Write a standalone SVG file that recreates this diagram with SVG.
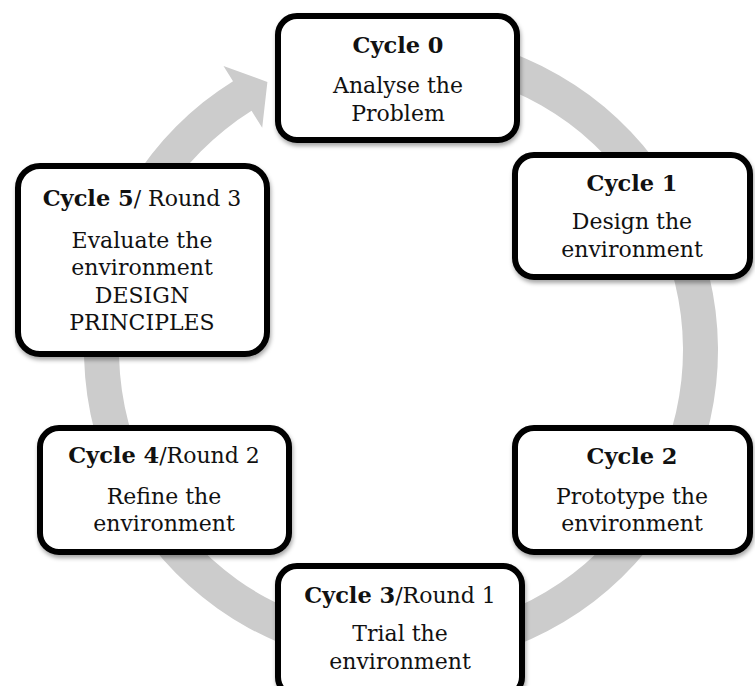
<svg xmlns="http://www.w3.org/2000/svg" width="755" height="686" viewBox="0 0 755 686">
<style>
.box{fill:#ffffff;stroke:#000000;stroke-width:6;filter:url(#sh)}
.t{font-family:"DejaVu Serif","Liberation Serif",serif;font-size:22px;fill:#111;text-anchor:middle}
.b{font-weight:bold;font-size:22.5px}
</style>
<defs>
<filter id="sh" x="-10%" y="-10%" width="125%" height="130%">
<feDropShadow dx="1" dy="3" stdDeviation="2" flood-color="#000" flood-opacity="0.35"/>
</filter>
</defs>
<rect width="755" height="686" fill="#ffffff"/>
<g id="connectors">
<path d="M456.05,37.82 A317,317 0 1 1 233.02,81.17 L223.5,65.9 L267.4,82.0 L262.2,127.8 L251.56,110.85 A282,282 0 1 0 449.97,72.28 Z" fill="#cccccc"/>
</g>
<g id="cycle0">
<rect class="box" x="278" y="16" width="239" height="124" rx="19"/>
<text class="t b" x="398" y="53">Cycle 0</text>
<text class="t" x="398" y="93">Analyse the</text>
<text class="t" x="398" y="121">Problem</text>
</g>
<g id="cycle1">
<rect class="box" x="515" y="155" width="235" height="122" rx="19"/>
<text class="t b" x="632" y="191">Cycle 1</text>
<text class="t" x="632" y="229">Design the</text>
<text class="t" x="632" y="257">environment</text>
</g>
<g id="cycle2">
<rect class="box" x="515" y="428" width="235" height="124" rx="19"/>
<text class="t b" x="632" y="464">Cycle 2</text>
<text class="t" x="632" y="504">Prototype the</text>
<text class="t" x="632" y="531">environment</text>
</g>
<g id="cycle3">
<rect class="box" x="278" y="566" width="244" height="130" rx="19"/>
<text class="t" x="400" y="603"><tspan class="b">Cycle 3</tspan>/Round 1</text>
<text class="t" x="400" y="641">Trial the</text>
<text class="t" x="400" y="669">environment</text>
</g>
<g id="cycle4">
<rect class="box" x="40" y="428" width="249" height="124" rx="19"/>
<text class="t" x="164" y="463"><tspan class="b">Cycle 4</tspan>/Round 2</text>
<text class="t" x="164" y="504">Refine the</text>
<text class="t" x="164" y="531">environment</text>
</g>
<g id="cycle5">
<rect class="box" x="18" y="166" width="249" height="188" rx="22"/>
<text class="t" x="142" y="206"><tspan class="b">Cycle 5</tspan>/ Round 3</text>
<text class="t" x="142" y="248">Evaluate the</text>
<text class="t" x="142" y="275">environment</text>
<text class="t" x="142" y="303">DESIGN</text>
<text class="t" x="142" y="330">PRINCIPLES</text>
</g>
</svg>
